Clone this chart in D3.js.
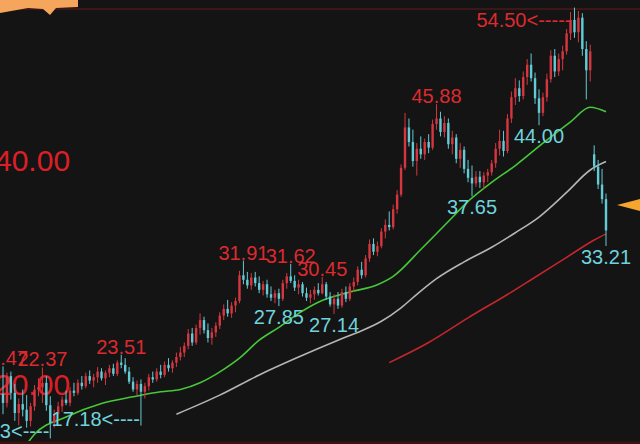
<!DOCTYPE html>
<meta charset="utf-8">
<style>
  body { margin: 0; background: #151414; }
  svg { display: block; }
  .lbl { font-family: "Liberation Sans", Arial, sans-serif; font-size: 20px; }
  .axis { font-family: "Liberation Sans", Arial, sans-serif; font-size: 30px; fill: #dc1f27; }
</style>
<svg width="640" height="444"></svg>
<script src="https://cdn.jsdelivr.net/npm/d3@7/dist/d3.min.js"></script>
<script>
  // daily candles (left to right)
  var opens = [
    20.0,19.2,21.6,20.1,18.3,19.1,18.6,17.6,18.9,20.4,
    20.6,21.0,19.0,17.4,18.2,18.9,19.5,19.2,20.3,20.1,
    21.0,20.7,21.6,21.2,21.5,22.0,21.4,21.9,22.3,21.8,
    22.8,22.6,22.0,21.1,20.4,20.9,20.2,20.7,21.5,21.3,
    22.0,21.7,22.6,22.3,22.8,23.3,23.7,24.3,25.4,24.6,
    25.9,26.6,25.7,25.0,25.5,26.1,27.0,27.6,27.2,27.9,
    28.3,30.6,30.2,29.7,30.4,29.9,29.3,29.8,28.9,28.6,
    29.0,28.5,29.9,30.5,30.1,29.5,29.8,29.0,28.6,28.9,
    29.3,29.0,29.8,28.7,28.0,28.5,27.9,29.1,28.5,29.6,
    30.0,31.1,30.6,32.1,33.4,32.7,33.2,34.5,35.1,34.9,
    36.5,37.8,40.2,43.8,42.5,40.8,41.9,41.4,42.5,42.0,
    44.1,44.6,43.4,44.2,42.3,42.9,41.0,41.8,40.1,39.3,
    38.8,39.4,38.9,39.5,39.8,40.6,41.9,42.6,41.7,44.6,
    46.5,47.3,46.6,48.3,49.4,48.2,46.4,45.1,46.5,48.1,
    50.2,48.8,49.9,50.6,52.2,53.4,52.3,53.6,50.8,48.9,
    41.4,40.3,38.7,37.4];
  var highs = [
    22.47,21.9,22.0,20.9,19.6,20.4,19.9,19.2,20.8,21.4,
    22.37,21.6,19.8,18.6,19.3,19.8,20.3,20.6,21.0,21.3,
    21.6,21.9,22.1,21.8,22.4,22.3,22.1,22.6,22.7,23.0,
    23.51,23.2,22.4,21.5,21.2,21.3,21.0,21.8,22.0,22.3,
    22.6,22.9,23.2,23.0,23.7,24.2,24.6,25.8,25.9,26.2,
    27.2,26.9,26.3,25.9,26.4,27.3,28.0,28.4,28.2,28.6,
    31.0,31.91,30.9,30.8,30.9,30.5,30.1,30.2,29.6,29.3,
    29.4,30.2,30.8,31.62,30.6,30.2,30.0,29.5,29.3,29.6,
    29.9,30.45,30.0,29.1,28.9,29.1,29.4,29.6,29.9,30.4,
    31.4,31.8,32.4,33.8,33.9,33.6,34.8,35.6,36.3,36.9,
    38.2,40.5,45.1,44.6,43.6,42.4,43.0,42.8,43.2,44.5,
    45.88,45.2,44.8,44.6,43.5,43.2,42.4,42.1,40.9,40.4,
    39.9,39.9,39.8,40.1,40.9,42.4,43.6,43.5,45.0,47.0,
    48.2,48.0,48.8,49.9,50.4,48.7,47.2,46.9,48.6,50.7,
    50.8,50.4,51.1,52.6,54.1,54.50,54.2,54.0,51.5,51.2,
    42.2,40.9,40.1,37.9];
  var lows = [
    18.2,18.8,19.5,17.6,17.2,18.0,17.0,17.1,18.5,19.8,
    19.2,18.5,16.03,17.0,17.8,18.4,19.0,18.9,19.8,19.9,
    20.4,20.5,20.9,20.6,21.0,21.2,20.8,21.5,21.6,21.6,
    22.3,21.8,20.9,20.2,19.9,17.18,19.6,20.3,21.0,21.1,
    21.4,21.5,22.0,21.9,22.4,23.0,23.3,24.0,24.3,24.4,
    25.3,25.4,24.6,24.4,25.1,25.8,26.6,26.9,26.8,27.3,
    28.1,29.8,29.4,29.3,29.6,29.0,28.8,28.6,28.3,28.1,
    27.85,28.3,29.4,29.9,29.2,28.9,28.7,28.3,28.1,28.4,
    28.8,28.9,28.4,27.8,27.14,27.6,27.7,28.2,28.3,29.1,
    29.7,30.3,30.4,31.8,32.4,32.3,33.0,33.9,34.6,34.7,
    36.1,37.6,40.0,42.1,40.3,39.5,41.0,40.9,41.5,41.8,
    43.6,43.0,42.9,41.9,41.4,40.6,40.2,39.7,38.9,37.65,
    38.5,38.4,38.3,38.9,39.5,40.2,41.3,41.2,41.5,44.2,
    45.8,46.1,46.3,47.6,47.9,45.9,44.0,44.8,46.1,47.8,
    48.3,48.4,48.9,50.3,51.6,51.8,51.4,50.2,46.3,47.9,
    39.9,38.3,37.0,33.21];
  var closes = [
    19.2,21.6,20.1,18.3,19.1,18.6,17.6,18.9,20.4,20.6,
    21.0,19.0,17.4,18.2,18.9,19.5,19.2,20.3,20.1,21.0,
    20.7,21.6,21.2,21.5,22.0,21.4,21.9,22.3,21.8,22.8,
    22.6,22.0,21.1,20.4,20.9,20.2,20.7,21.5,21.3,22.0,
    21.7,22.6,22.3,22.8,23.3,23.7,24.3,25.4,24.6,25.9,
    26.6,25.7,25.0,25.5,26.1,27.0,27.6,27.2,27.9,28.3,
    30.6,30.2,29.7,30.4,29.9,29.3,29.8,28.9,28.6,29.0,
    28.5,29.9,30.5,30.1,29.5,29.8,29.0,28.6,28.9,29.3,
    29.0,29.8,28.7,28.0,28.5,27.9,29.1,28.5,29.6,30.0,
    31.1,30.6,32.1,33.4,32.7,33.2,34.5,35.1,34.9,36.5,
    37.8,40.2,43.8,42.5,40.8,41.9,41.4,42.5,42.0,44.1,
    44.6,43.4,44.2,42.3,42.9,41.0,41.8,40.1,39.3,38.8,
    39.4,38.9,39.5,39.8,40.6,41.9,42.6,41.7,44.6,46.5,
    47.3,46.6,48.3,49.4,48.2,46.4,45.1,46.5,48.1,50.2,
    48.8,49.9,50.6,52.2,53.4,52.3,53.6,50.8,48.9,50.6,
    40.3,38.7,37.4,34.6];

  // moving averages as [candle index, value]
  var maGreen = [[5,15.0],[8,16.4],[16,17.95],[25,19.15],[33,19.75],[40,20.2],[45,20.4],[50,21.0],[52,21.35],
    [56,22.2],[60,23.2],[65,24.8],[70,25.95],[75,27.2],[80,28.2],[88,29.1],[95,29.75],[99,30.5],[106,32.9],
    [113,35.4],[118,37.2],[124,38.9],[130,40.4],[137,42.4],[144,44.3],[149,45.6],[153,45.2]];
  var maGray = [[44,18.2],[55,19.9],[65,21.7],[75,23.3],[85,24.8],[91,25.65],[96,26.5],[101,27.7],[105,28.9],
    [110,30.3],[117,31.8],[124,33.1],[130,34.4],[136,35.8],[143,38.0],[149,40.0],[153,40.75]];
  var maRed = [[98,22.8],[108,24.6],[118,26.8],[129,29.1],[134,30.2],[143,32.2],[150,33.75],[153,34.3]];

  var axisTicks = [40, 20];
  var highMarks = [0, 10, 30, 61, 73, 81, 110];   // red peak labels
  var lowMarks = [70, 84, 119, 136, 153];          // cyan trough labels
  var maxMark = 145;                                // 54.50<----
  var minMarks = [12, 35];                          // xx.xx<----

  var svg = d3.select("svg"),
    width = +svg.attr("width"),
    height = +svg.attr("height");
  var N = closes.length;
  var x = d3.scaleLinear().domain([0, N - 1]).range([3, 606]);
  var y = d3.scaleLinear().domain([20, 40]).range([394, 170]);

  var upColor = "#d6363f", downColor = "#62cbd6";

  svg.append("rect").attr("width", width).attr("height", height).attr("fill", "#151414");

  svg.append("defs").append("clipPath").attr("id", "plot")
    .append("rect").attr("x", 0).attr("y", 0).attr("width", width).attr("height", 441);

  // frame lines top / bottom
  svg.append("line").attr("x1", 0).attr("x2", width).attr("y1", 9).attr("y2", 9)
    .attr("stroke", "#3b1717").attr("stroke-width", 2);
  svg.append("rect").attr("x", 0).attr("y", 441.5).attr("width", width).attr("height", 3).attr("fill", "#3d1213");

  // axis labels
  svg.selectAll("text.axis").data(axisTicks).enter().append("text")
    .attr("class", "axis")
    .attr("x", -5)
    .attr("y", function(d) { return y(d) + 1; })
    .text(function(d) { return d.toFixed(2); });

  var g = svg.append("g").attr("clip-path", "url(#plot)");

  // moving averages
  var line = d3.line()
    .x(function(d) { return x(d[0]); })
    .y(function(d) { return y(d[1]); })
    .curve(d3.curveMonotoneX);
  [[maRed, "#c3262c"], [maGray, "#b5b5b5"], [maGreen, "#45c83a"]].forEach(function(m) {
    g.append("path").attr("d", line(m[0])).attr("fill", "none")
      .attr("stroke", m[1]).attr("stroke-width", 1.6);
  });

  // candles
  var idx = d3.range(N);
  var candle = g.append("g").selectAll("g").data(idx).enter().append("g");
  candle.append("line")
    .attr("x1", function(i) { return x(i); })
    .attr("x2", function(i) { return x(i); })
    .attr("y1", function(i) { return y(highs[i]); })
    .attr("y2", function(i) { return y(lows[i]); })
    .attr("stroke", function(i) { return closes[i] >= opens[i] ? upColor : downColor; })
    .attr("stroke-width", 1);
  candle.append("rect")
    .attr("x", function(i) { return x(i) - 1.2; })
    .attr("width", 2.4)
    .attr("y", function(i) { return y(Math.max(opens[i], closes[i])); })
    .attr("height", function(i) { return Math.max(1, Math.abs(y(opens[i]) - y(closes[i]))); })
    .attr("fill", function(i) { return closes[i] >= opens[i] ? upColor : downColor; });

  // peak / trough labels
  svg.selectAll("text.hi").data(highMarks).enter().append("text")
    .attr("class", "lbl hi").attr("fill", "#dc2a2f").attr("text-anchor", "middle")
    .attr("x", function(i) { return x(i); })
    .attr("y", function(i) { return y(highs[i]) - 1; })
    .text(function(i) { return highs[i].toFixed(2); });
  svg.selectAll("text.lo").data(lowMarks).enter().append("text")
    .attr("class", "lbl lo").attr("fill", "#6fd3de").attr("text-anchor", "middle")
    .attr("x", function(i) { return x(i); })
    .attr("y", function(i) { return y(lows[i]) + 18; })
    .text(function(i) { return lows[i].toFixed(2); });
  svg.append("text").attr("class", "lbl").attr("fill", "#dc2a2f").attr("text-anchor", "end")
    .attr("x", x(maxMark) - 3)
    .attr("y", y(highs[maxMark]) + 19)
    .text(highs[maxMark].toFixed(2) + "<-----");
  svg.selectAll("text.mn").data(minMarks).enter().append("text")
    .attr("class", "lbl mn").attr("fill", "#6fd3de").attr("text-anchor", "end")
    .attr("x", function(i) { return x(i) - 1; })
    .attr("y", function(i) { return y(lows[i]); })
    .text(function(i) { return lows[i].toFixed(2) + "<----"; });

  // orange callout bits from the screenshot
  svg.append("path").attr("d", "M0,0 L78,0 L78,7 L56,8 L50,15 L43,9 L28,8 L0,13 Z").attr("fill", "#f6a55c");
  svg.append("path").attr("d", "M617,205 L640,199 L640,211 Z").attr("fill", "#f4a62e");
</script>
